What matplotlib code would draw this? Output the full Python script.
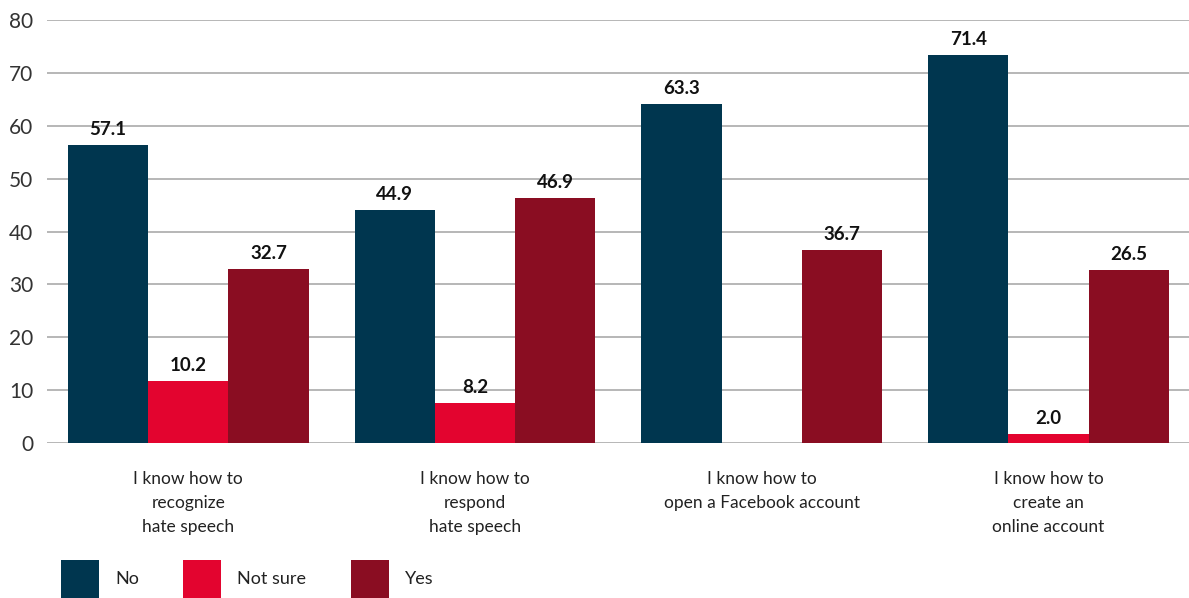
import numpy as np
import matplotlib
matplotlib.use('Agg')
import matplotlib.pyplot as plt

matplotlib.rcParams['font.family'] = ['Lato', 'DejaVu Sans']

categories = ['I know how to\nrecognize\nhate speech',
              'I know how to\nrespond\nhate speech',
              'I know how to\nopen a Facebook account',
              'I know how to\ncreate an\nonline account']
series = ['No', 'Not sure', 'Yes']
colors = ['#00364F', '#E3042F', '#8A0D22']

# bar heights as drawn in the picture
no_vals = [56.3, 44.1, 64.1, 73.3]
notsure_vals = [11.8, 7.6, 0.0, 1.8]
yes_vals = [32.9, 46.3, 36.5, 32.7]

# value labels printed above the bars
no_labels = ['57.1', '44.9', '63.3', '71.4']
notsure_labels = ['10.2', '8.2', '', '2.0']
yes_labels = ['32.7', '46.9', '36.7', '26.5']

yticks = [0, 10, 20, 30, 40, 50, 60, 70, 80]


def main():
    fig = plt.figure(figsize=(11.89, 5.98), dpi=100)
    ax = fig.add_axes([0.0395, 0.2587, 0.9605, 0.7083])

    x = np.arange(len(categories))
    width = 0.28
    all_vals = [no_vals, notsure_vals, yes_vals]
    all_labels = [no_labels, notsure_labels, yes_labels]

    bars = []
    for i, (vals, labels) in enumerate(zip(all_vals, all_labels)):
        b = ax.bar(x + (i - 1) * width, vals, width, color=colors[i],
                   label=series[i], zorder=3)
        bars.append(b)
        for rect, lab in zip(b, labels):
            if not lab:
                continue
            ax.annotate(lab, (rect.get_x() + rect.get_width() / 2, rect.get_height()),
                        xytext=(0, 5), textcoords='offset points',
                        ha='center', va='bottom', fontsize=13.5,
                        fontweight='bold', color='#111111')

    ax.set_ylim(0, 80)
    ax.set_xlim(-0.493, 3.49)
    ax.set_yticks(yticks)
    ax.yaxis.grid(True, color='#aaaaaa', linewidth=1.2, zorder=0)
    ax.set_axisbelow(True)
    for s in ax.spines.values():
        s.set_visible(False)
    ax.tick_params(axis='both', length=0)
    ax.tick_params(axis='y', labelsize=15, labelcolor='#333333', pad=10)
    ax.set_xticks(x)
    ax.set_xticklabels(categories, fontsize=12.5, color='#222222',
                       linespacing=1.6, va='top')
    ax.tick_params(axis='x', pad=20)

    fig.legend(handles=bars, labels=series, loc='lower left',
               bbox_to_anchor=(61 / 1189, 0.0), ncol=3, frameon=False,
               fontsize=13, handlelength=2.1, handleheight=2.9,
               handletextpad=0.9, columnspacing=2.45, borderpad=0,
               borderaxespad=0, labelcolor='#222222')

    fig.savefig('out.png', dpi=100)


if __name__ == '__main__':
    main()
